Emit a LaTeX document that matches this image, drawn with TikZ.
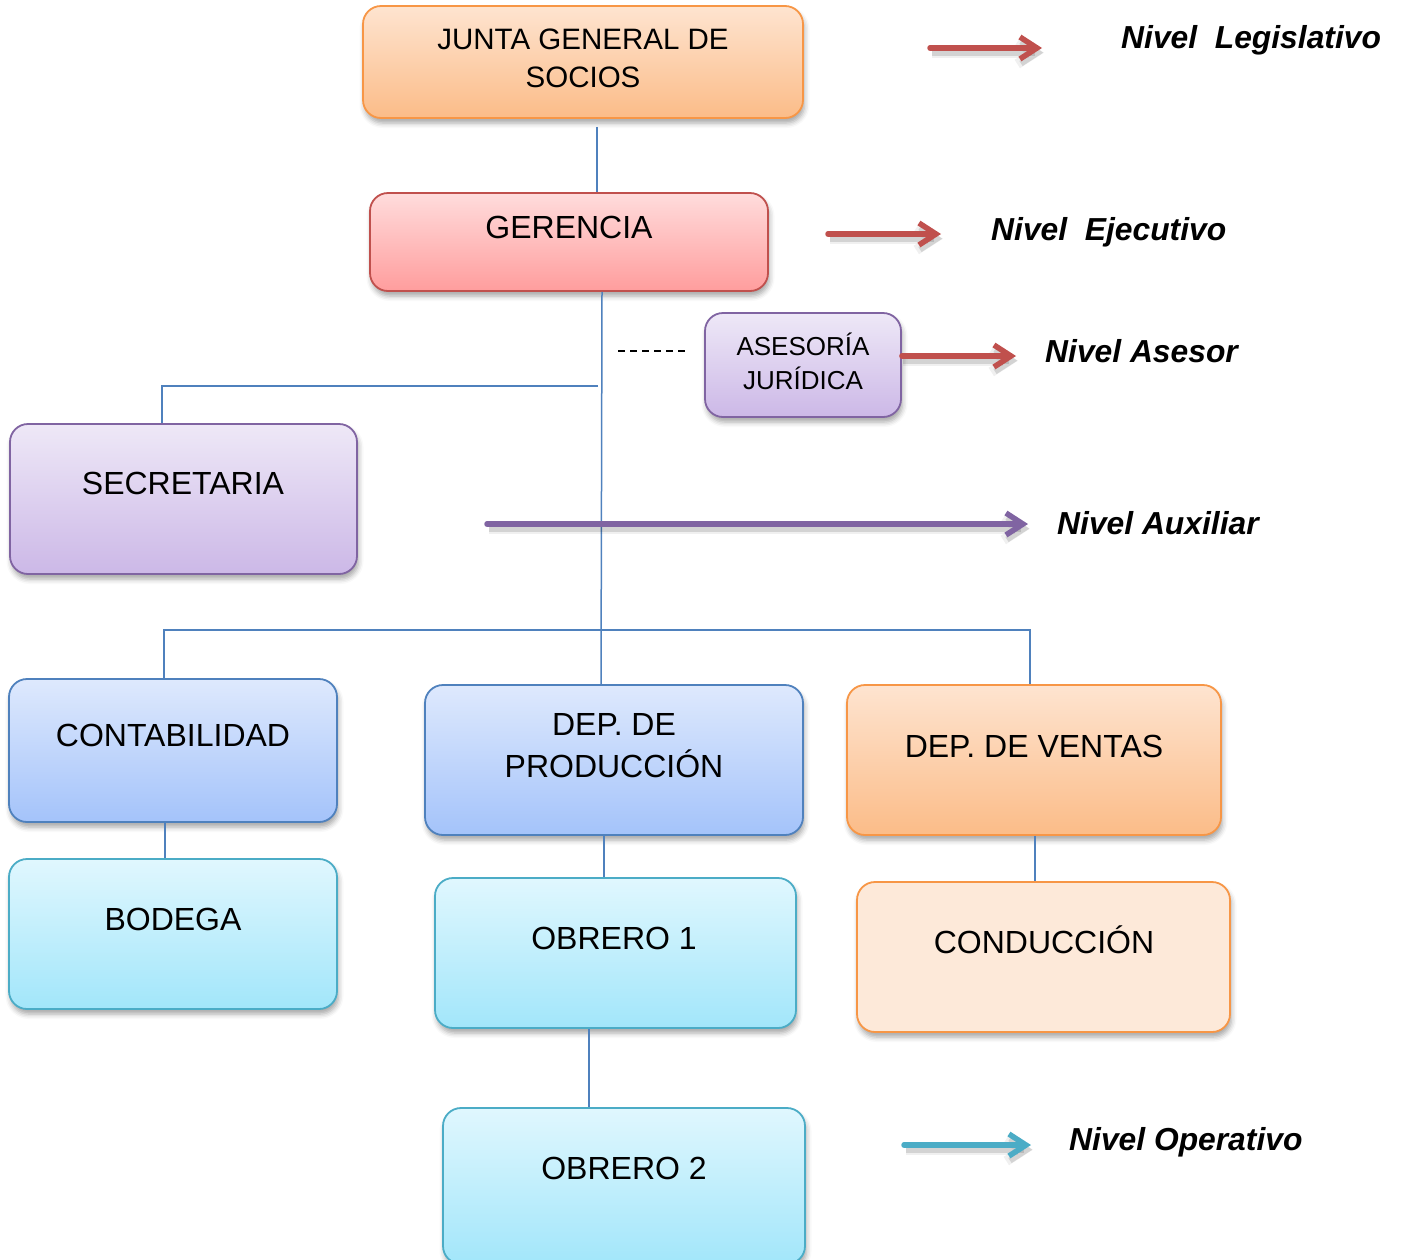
\documentclass[tikz,border=0pt]{standalone}
\usepackage{fontspec}
\setmainfont{Liberation Sans}
\usetikzlibrary{arrows.meta,shadows.blur,calc}

% palette
\definecolor{orangeB}{HTML}{F79646}
\definecolor{orangeT}{HTML}{FEE4D0}
\definecolor{orangeM}{HTML}{FBBC88}
\definecolor{redB}{HTML}{C0504D}
\definecolor{redT}{HTML}{FFDCDC}
\definecolor{redM}{HTML}{FF9D9D}
\definecolor{purpB}{HTML}{8064A2}
\definecolor{purpT}{HTML}{EEE8F7}
\definecolor{purpM}{HTML}{CCB8E7}
\definecolor{blueB}{HTML}{4F81BD}
\definecolor{blueT}{HTML}{DEE9FD}
\definecolor{blueM}{HTML}{A4C3FA}
\definecolor{cyanB}{HTML}{4BACC6}
\definecolor{cyanT}{HTML}{E0F7FE}
\definecolor{cyanM}{HTML}{A2E6FA}
\definecolor{peach}{HTML}{FDE9D9}

\tikzset{
  box/.style={rectangle, rounded corners=18pt, line width=1.8pt, inner sep=0pt,
    blur shadow={shadow xshift=1.5pt, shadow yshift=-5pt, shadow blur radius=5pt, shadow opacity=35}},
  orangebox/.style={box, draw=orangeB, top color=orangeT, bottom color=orangeM},
  redbox/.style={box, draw=redB, top color=redT, bottom color=redM},
  purplebox/.style={box, draw=purpB, top color=purpT, bottom color=purpM},
  bluebox/.style={box, draw=blueB, top color=blueT, bottom color=blueM},
  cyanbox/.style={box, draw=cyanB, top color=cyanT, bottom color=cyanM},
  peachbox/.style={box, draw=orangeB, fill=peach},
  lbl/.style={font=\fontsize{32}{38}\selectfont, anchor=base, inner sep=0pt},
  smalllbl/.style={font=\fontsize{26}{31}\selectfont, anchor=base, inner sep=0pt},
  juntalbl/.style={font=\fontsize{29.5}{35}\selectfont, anchor=base, inner sep=0pt},
  levellbl/.style={font=\fontsize{31.8}{38}\selectfont\bfseries\itshape, anchor=base west, inner sep=0pt},
  link/.style={draw=blueB, line width=1.5pt},
  levelarrow/.style={line width=5.5pt, line cap=round,
    -{Straight Barb[length=17pt,width=22pt]},
    preaction={draw=black, line width=10pt, opacity=0.06, transform canvas={xshift=1.5pt,yshift=-5pt}},
    preaction={draw=black, line width=6pt, opacity=0.12, transform canvas={xshift=1.5pt,yshift=-4.5pt}}},
}

\begin{document}
\begin{tikzpicture}[x=1pt,y=-1pt]
\useasboundingbox (0,0) rectangle (1402,1259);

% boxes
\node[orangebox, minimum width=440pt, minimum height=112pt] (jgs)  at (583,62) {};
\node[redbox,    minimum width=398pt, minimum height=98pt]  (ger)  at (569,242) {};
\node[purplebox, minimum width=196pt, minimum height=104pt] (ase)  at (803,365) {};
\node[purplebox, minimum width=347pt, minimum height=150pt] (sec)  at (183.5,499) {};
\node[bluebox,   minimum width=328pt, minimum height=143pt] (cont) at (173,750.5) {};
\node[bluebox,   minimum width=378pt, minimum height=150pt] (prod) at (614,760) {};
\node[orangebox, minimum width=374pt, minimum height=150pt] (vent) at (1034,760) {};
\node[cyanbox,   minimum width=328pt, minimum height=150pt] (bod)  at (173,934) {};
\node[cyanbox,   minimum width=361pt, minimum height=150pt] (ob1)  at (615.5,953) {};
\node[peachbox,  minimum width=373pt, minimum height=150pt] (cond) at (1043.5,957) {};
\node[cyanbox,   minimum width=362pt, minimum height=156pt] (ob2)  at (624,1186) {};

% box texts
\node[juntalbl] (jgs-a) at (583,49) {JUNTA GENERAL DE};
\node[juntalbl] (jgs-b) at (583,87) {SOCIOS};
\node[lbl] (ger-t) at (569,238) {GERENCIA};
\node[smalllbl] (ase-a) at (803,355) {ASESORÍA};
\node[smalllbl] (ase-b) at (803,389) {JURÍDICA};
\node[lbl] (sec-t) at (183,494) {SECRETARIA};
\node[lbl] (cont-t) at (173,746) {CONTABILIDAD};
\node[lbl] (prod-a) at (614,735) {DEP. DE};
\node[lbl] (prod-b) at (614,777) {PRODUCCIÓN};
\node[lbl] (vent-t) at (1034,757) {DEP. DE VENTAS};
\node[lbl] (bod-t) at (173,930) {BODEGA};
\node[lbl] (ob1-t) at (614,949) {OBRERO 1};
\node[lbl] (cond-t) at (1044,953) {CONDUCCIÓN};
\node[lbl] (ob2-t) at (624,1179) {OBRERO 2};

% level labels
\node[levellbl] (lv-leg) at (1121,48) {Nivel\ \ Legislativo};
\node[levellbl] (lv-eje) at (991,240) {Nivel\ \ Ejecutivo};
\node[levellbl] (lv-ase) at (1045,362) {Nivel Asesor};
\node[levellbl] (lv-aux) at (1057,534) {Nivel Auxiliar};
\node[levellbl] (lv-ope) at (1069,1150) {Nivel Operativo};

% connectors
\coordinate (secj) at (598,386);
\coordinate (bus)  at (601,630);
\draw[link] ([xshift=14pt,yshift=-8pt]jgs.south) -- ([xshift=28pt]ger.north);
\draw[link] ([xshift=33pt]ger.south) -- ([xshift=-13pt]prod.north);
\draw[link] (secj) -| ([xshift=-21.5pt]sec.north);
\draw[link] ([xshift=-9pt]cont.north) |- (bus) -| ([xshift=-4pt]vent.north);
\draw[link] ([xshift=-8pt]cont.south) -- ([xshift=-8pt]bod.north);
\draw[link] ([xshift=-10pt]prod.south) -- ([xshift=-11.5pt]ob1.north);
\draw[link] ([xshift=1pt]vent.south) -- ([xshift=-8.5pt]cond.north);
\draw[link] ([xshift=-26.5pt]ob1.south) -- ([xshift=-35pt]ob2.north);

% dashed advisory link
\coordinate (dsh-a) at (618,351);
\coordinate (dsh-b) at (689,351);
\draw[black, line width=1.3pt, dash pattern=on 7pt off 5pt] (dsh-a) -- (dsh-b);

% level arrows
\coordinate (a-leg-s) at (930,48);
\coordinate (a-leg-e) at (1042,48);
\coordinate (a-eje-s) at (828,234);
\coordinate (a-eje-e) at (941,234);
\coordinate (a-ase-e) at (1016,356);
\coordinate (a-aux-s) at (487,524);
\coordinate (a-aux-e) at (1028,524);
\coordinate (a-ope-s) at (904,1145);
\coordinate (a-ope-e) at (1031,1145);
\draw[levelarrow, redB]  (a-leg-s) -- (a-leg-e);
\draw[levelarrow, redB]  (a-eje-s) -- (a-eje-e);
\draw[levelarrow, redB]  ([yshift=9pt]ase.east) -- (a-ase-e);
\draw[levelarrow, purpB] (a-aux-s) -- (a-aux-e);
\draw[levelarrow, cyanB] (a-ope-s) -- (a-ope-e);
\end{tikzpicture}
\end{document}
